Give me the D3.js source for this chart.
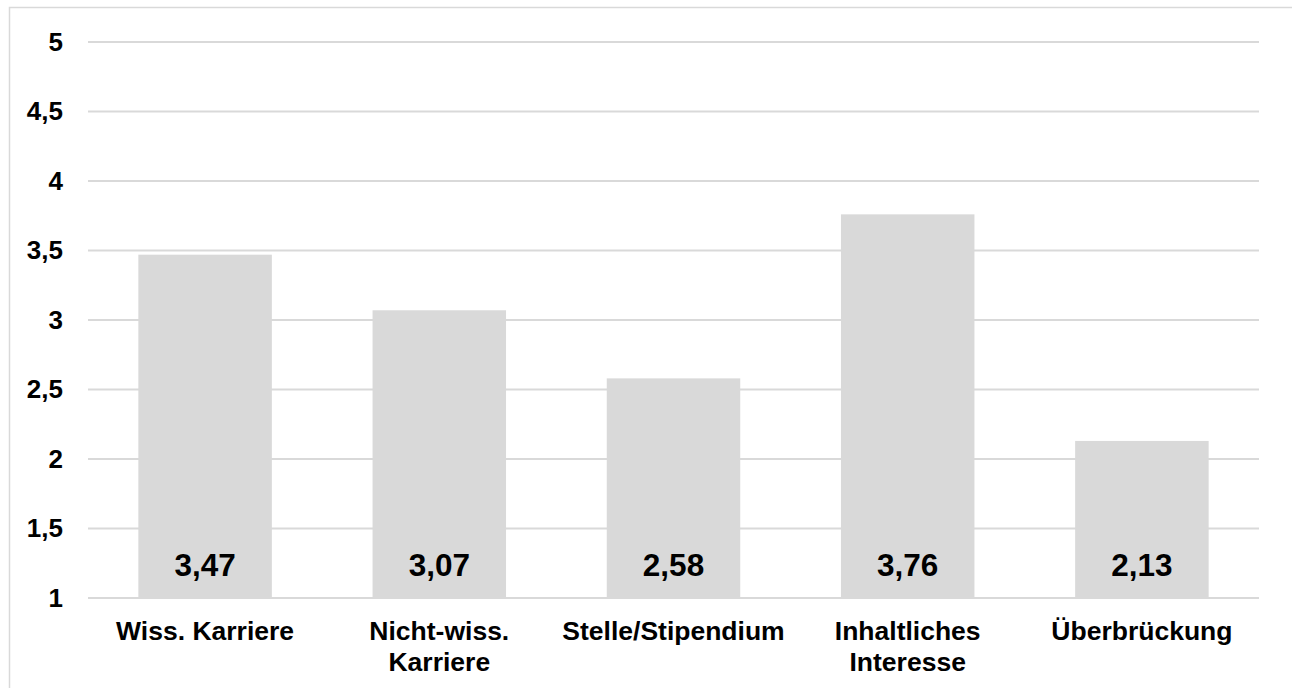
<!DOCTYPE html>
<html>
<head>
<meta charset="utf-8">
<script src="https://cdn.jsdelivr.net/npm/d3@7"></script>
<style>
  html, body { margin: 0; padding: 0; background: #fff; overflow: hidden; }
  svg { display: block; font-family: "Liberation Sans", Arial, sans-serif; }
</style>
</head>
<body>
<svg id="chart" width="1292" height="688"></svg>
<script>
// Mean ratings per motive (scale 1–5)
const categories = [
  ["Wiss. Karriere"],
  ["Nicht-wiss.", "Karriere"],
  ["Stelle/Stipendium"],
  ["Inhaltliches", "Interesse"],
  ["Überbrückung"]
];
const values = [3.47, 3.07, 2.58, 3.76, 2.13];
const yTicks = [1, 1.5, 2, 2.5, 3, 3.5, 4, 4.5, 5];

const fmt = v => String(v).replace(".", ",");
const fmt2 = v => v.toFixed(2).replace(".", ",");

const svg = d3.select("#chart");

// outer chart frame
svg.append("rect")
  .attr("x", 9.5).attr("y", 7.5)
  .attr("width", 1300).attr("height", 700)
  .attr("fill", "none")
  .attr("stroke", "#d9d9d9")
  .attr("stroke-width", 1.5);

const plot = { left: 88, right: 1259, top: 42, bottom: 598 };

const x = d3.scaleBand()
  .domain(d3.range(categories.length))
  .range([plot.left, plot.right])
  .paddingInner(0.43)
  .paddingOuter(0.215);

const y = d3.scaleLinear()
  .domain([1, 5])
  .range([plot.bottom, plot.top]);

// horizontal gridlines
svg.append("g")
  .selectAll("line")
  .data(yTicks)
  .join("line")
  .attr("x1", plot.left).attr("x2", plot.right)
  .attr("y1", d => y(d)).attr("y2", d => y(d))
  .attr("stroke", "#d9d9d9")
  .attr("stroke-width", 2);

// y-axis tick labels
const yAxis = d3.axisLeft(y).tickValues(yTicks).tickFormat(fmt).tickSize(0).tickPadding(25);
const gy = svg.append("g")
  .attr("transform", `translate(${plot.left},0)`)
  .call(yAxis);
gy.select(".domain").remove();
gy.selectAll("text")
  .attr("font-family", "Liberation Sans, Arial, sans-serif")
  .attr("font-size", 26)
  .attr("font-weight", "bold")
  .attr("fill", "#000");

// bars
svg.append("g")
  .selectAll("rect")
  .data(values)
  .join("rect")
  .attr("x", (d, i) => x(i))
  .attr("width", x.bandwidth())
  .attr("y", d => y(d))
  .attr("height", d => y(1) - y(d))
  .attr("fill", "#d9d9d9");

// value labels inside the bars, near the base
svg.append("g")
  .selectAll("text")
  .data(values)
  .join("text")
  .attr("x", (d, i) => x(i) + x.bandwidth() / 2)
  .attr("y", y(1) - 22)
  .attr("text-anchor", "middle")
  .attr("font-size", 31.5)
  .attr("font-weight", "bold")
  .attr("fill", "#000")
  .text(d => fmt2(d));

// category labels (wrapped)
const cat = svg.append("g")
  .selectAll("text")
  .data(categories)
  .join("text")
  .attr("x", (d, i) => x(i) + x.bandwidth() / 2)
  .attr("y", 639.5)
  .attr("text-anchor", "middle")
  .attr("font-size", 26.5)
  .attr("font-weight", "bold")
  .attr("fill", "#000");
cat.selectAll("tspan")
  .data(d => d)
  .join("tspan")
  .attr("x", function () { return d3.select(this.parentNode).attr("x"); })
  .attr("dy", (d, i) => i === 0 ? 0 : 31)
  .text(d => d);
</script>
</body>
</html>
